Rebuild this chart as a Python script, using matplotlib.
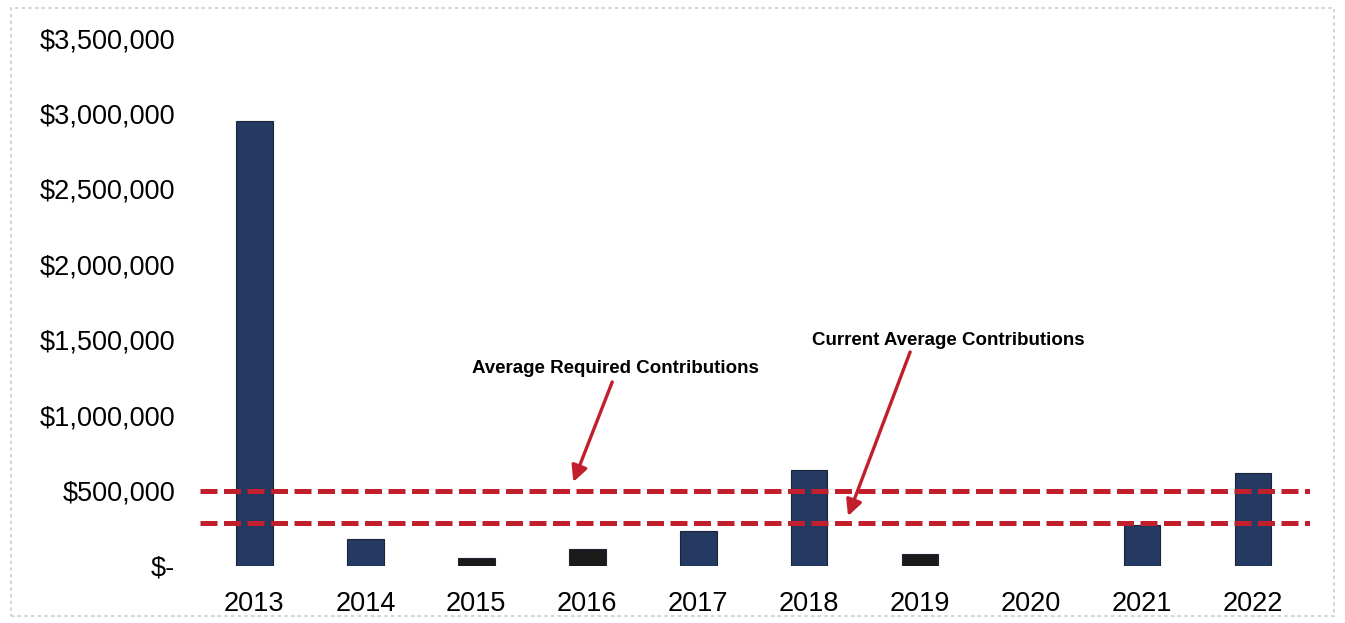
import matplotlib.pyplot as plt
from matplotlib.patches import Rectangle
from matplotlib.ticker import FuncFormatter

plt.rcParams['font.family'] = ['Liberation Sans', 'DejaVu Sans']

years = ["2013", "2014", "2015", "2016", "2017", "2018", "2019", "2020", "2021", "2022"]
contributions = [2950000, 178000, 50000, 110000, 230000, 638000, 80000, 0, 270000, 618000]
bar_colors = ["#243a62", "#243a62", "#1a1a1a", "#1a1a1a", "#243a62",
              "#243a62", "#1a1a1a", "#243a62", "#243a62", "#243a62"]

avg_required = 500000
avg_current = 285000


def money(v, pos):
    if v == 0:
        return "$-"
    return "${:,.0f}".format(v)


fig = plt.figure(figsize=(13.45, 6.23), dpi=100)
ax = fig.add_axes([0.1487, 0.0915, 0.825, 0.8475])

x = range(len(years))
edges = ["#1b2438" if v > 0 else "none" for v in contributions]
ax.bar(x, contributions, width=0.33, color=bar_colors, edgecolor=edges, linewidth=0.8, zorder=2)

ax.axhline(avg_required, color="#c01f2b", lw=3.6, dashes=(3.4, 1.3), zorder=3)
ax.axhline(avg_current, color="#c01f2b", lw=3.6, dashes=(3.4, 1.3), zorder=3)

ax.set_xlim(-0.49, 9.51)
ax.set_ylim(0, 3500000)
ax.set_xticks(list(x))
ax.set_xticklabels(years)
ax.set_yticks(range(0, 3500001, 500000))
ax.yaxis.set_major_formatter(FuncFormatter(money))
ax.tick_params(axis="both", length=0, labelsize=19.5, colors="#000000")
ax.tick_params(axis="y", pad=18)
ax.tick_params(axis="x", pad=18)
for s in ax.spines.values():
    s.set_visible(False)

# labels and arrows
ax.text(3.25, 1306000, "Average Required Contributions", ha="center", va="center",
        fontsize=13.5, fontweight="bold")
ax.annotate("", xy=(2.874, 557000), xytext=(3.225, 1220000),
            arrowprops=dict(arrowstyle="-|>", color="#c01f2b", lw=2.4,
                            mutation_scale=24, shrinkA=0, shrinkB=0))
ax.text(6.25, 1492000, "Current Average Contributions", ha="center", va="center",
        fontsize=13.5, fontweight="bold")
ax.annotate("", xy=(5.35, 331000), xytext=(5.91, 1419000),
            arrowprops=dict(arrowstyle="-|>", color="#c01f2b", lw=2.4,
                            mutation_scale=24, shrinkA=0, shrinkB=0))

fig.patches.append(Rectangle((0.008, 0.012), 0.984, 0.975, transform=fig.transFigure,
                             fill=False, edgecolor="#cccccc", lw=1.2, ls=(0, (2, 2))))

fig.savefig("out.png", dpi=100)
